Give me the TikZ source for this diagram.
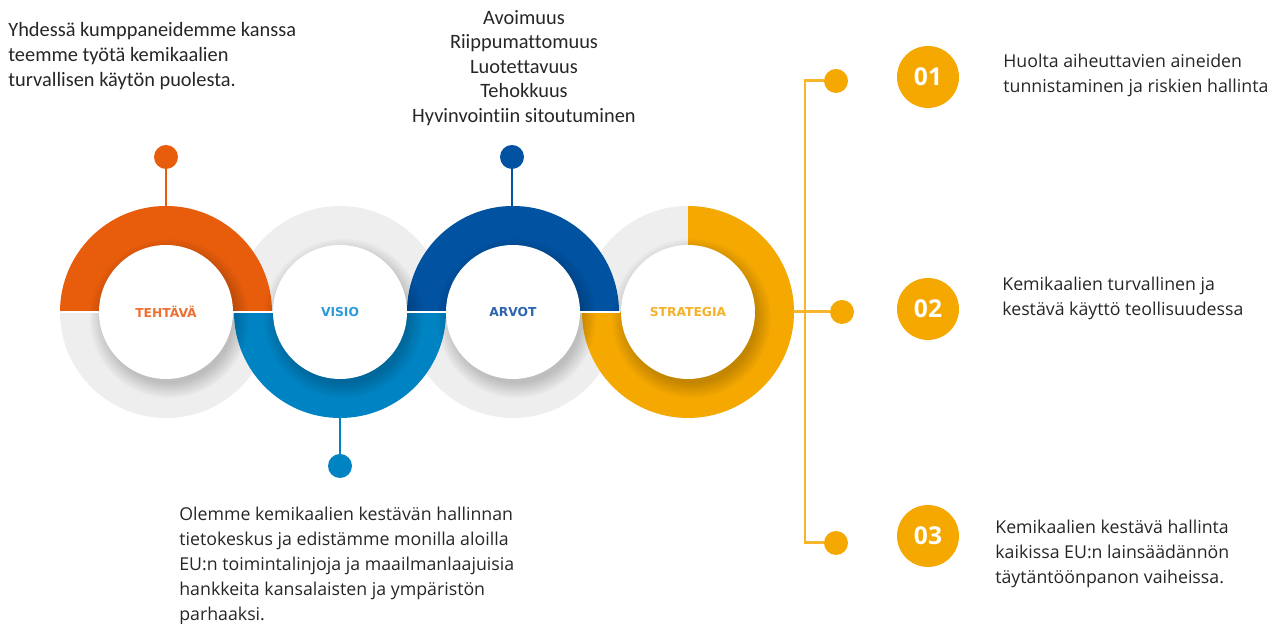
\documentclass[tikz,border=0pt]{standalone}
\usepackage{fontspec}
\setmainfont{Open Sans}
\newfontfamily\calfont[Ligatures=NoCommon]{Carlito}
\newfontfamily\lblfont{DejaVu Sans}
\usetikzlibrary{fadings}
\definecolor{tehorange}{HTML}{E85D0C}
\definecolor{visblue}{HTML}{0083C3}
\definecolor{arvblue}{HTML}{0152A1}
\definecolor{strgold}{HTML}{F5A800}
\definecolor{ringgrey}{HTML}{EEEEEE}
\definecolor{linegold}{HTML}{F7B52C}
\definecolor{txtgrey}{HTML}{262626}
\definecolor{tehlabel}{HTML}{EE7032}
\definecolor{vislabel}{HTML}{2B9AD8}
\definecolor{arvlabel}{HTML}{2D64AE}
\definecolor{strlabel}{HTML}{F5B129}
\tikzset{
    ringlabel/.style={circle,fill=white,minimum size=2.68cm,inner sep=0pt,
    font=\lblfont\bfseries\fontsize{7}{8}\selectfont},
    ringshadow/.style={black,opacity=0.2,path fading=circle with fuzzy edge 20 percent},
    dot/.style={circle,fill=#1,minimum size=0.48cm,inner sep=0pt},
    stem/.style={line width=1.7pt},
    numbox/.style={circle,fill=strgold,minimum size=1.24cm,inner sep=0pt,
    text=white,font=\bfseries\fontsize{14}{14}\selectfont},
    bodytext/.style={align=left,anchor=west,inner sep=0pt,text=txtgrey,
    font=\fontsize{10.1}{14.2}\selectfont},
    caltext/.style={inner sep=0pt,text=txtgrey,
    font=\calfont\fontsize{11.6}{14}\selectfont}
}
\begin{document}
\begin{tikzpicture}[x=0.02cm,y=0.02cm]
    \useasboundingbox (0,0) rectangle (1279,624);
    \fill[ringgrey] (166,312) circle (106);
    \fill[ringgrey] (340,312) circle (106);
    \fill[ringgrey] (513,312) circle (106);
    \fill[ringgrey] (688,312) circle (106);
    \fill[tehorange] (60,312) arc[start angle=180,end angle=0,radius=106] -- cycle;
    \fill[visblue] (234,312) arc[start angle=180,end angle=360,radius=106] -- cycle;
    \fill[arvblue] (407,312) arc[start angle=180,end angle=0,radius=106] -- cycle;
    \fill[strgold] (688,418) arc[start angle=90,end angle=-180,radius=106]
    -- (688,312) -- cycle;
    \fill[ringshadow] (169,306) circle (80);
    \fill[ringshadow] (343,306) circle (80);
    \fill[ringshadow] (516,306) circle (80);
    \fill[ringshadow] (691,306) circle (80);
    \draw[white,line width=0.8pt] (60,312) -- (620,312);
    \node[ringlabel,text=tehlabel] (tehtava) at (166,312) {TEHTÄVÄ};
    \node[ringlabel,text=vislabel] (visio) at (340,312) {VISIO};
    \node[ringlabel,text=arvlabel] (arvot) at (513,312) {ARVOT};
    \node[ringlabel,text=strlabel] (strategia) at (688,312) {STRATEGIA};

    \coordinate (tehtop) at (166,417);
    \coordinate (visbot) at (340,207);
    \coordinate (arvtop) at (512,417);
    \coordinate (strright) at (793,312);
    \node[dot=tehorange] (tehdot) at (166,467) {};
    \node[dot=visblue] (visdot) at (340,158) {};
    \node[dot=arvblue] (arvdot) at (512,467) {};
    \draw[stem,tehorange] (tehdot) -- (tehtop);
    \draw[stem,visblue] (visdot) -- (visbot);
    \draw[stem,arvblue] (arvdot) -- (arvtop);

    \node[dot=strgold] (d1) at (836,543) {};
    \node[dot=strgold] (d2) at (842,312) {};
    \node[dot=strgold] (d3) at (836,81) {};
    \coordinate (trunktop) at (805,543);
    \coordinate (trunkbot) at (805,81);
    \draw[stem,linegold] (d1) -- (trunktop) -- (trunkbot) -- (d3);
    \draw[stem,linegold] (strright) -- (d2);
    \node[numbox] (n1) at (928,547) {01};
    \node[numbox] (n2) at (928,315) {02};
    \node[numbox] (n3) at (928,88) {03};

    \node[bodytext] (t1) at (1003,549) {Huolta aiheuttavien aineiden\\
    tunnistaminen ja riskien hallinta};
    \node[bodytext] (t2) at (1002,326) {Kemikaalien turvallinen ja\\
    kestävä käyttö teollisuudessa};
    \node[bodytext] (t3) at (995,70) {Kemikaalien kestävä hallinta\\
    kaikissa EU:n lainsäädännön\\ täytäntöönpanon vaiheissa.};
    \node[bodytext] (vistext) at (179,58) {Olemme kemikaalien kestävän hallinnan\\
    tietokeskus ja edistämme monilla aloilla\\
    EU:n toimintalinjoja ja maailmanlaajuisia\\
    hankkeita kansalaisten ja ympäristön\\ parhaaksi.};
    \node[caltext,align=left,anchor=west] (tehtext) at (8,568)
    {Yhdessä kumppaneidemme kanssa\\ teemme työtä kemikaalien\\
    turvallisen käytön puolesta.};
    \node[caltext,align=center] (arvtext) at (524,556) {Avoimuus\\
    Riippumattomuus\\ Luotettavuus\\ Tehokkuus\\ Hyvinvointiin sitoutuminen};
\end{tikzpicture}
\end{document}
